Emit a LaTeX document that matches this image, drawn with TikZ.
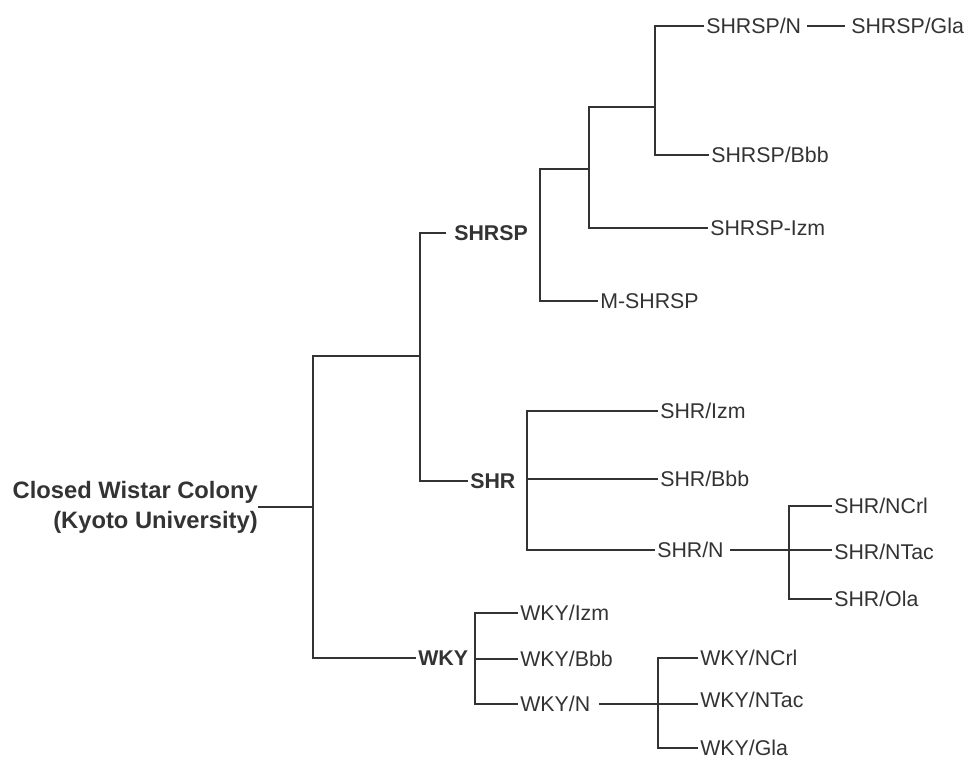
\documentclass[tikz,border=0pt]{standalone}
\usepackage{fontspec}
\setmainfont{Liberation Sans}
\definecolor{ink}{HTML}{333333}
\begin{document}
\begin{tikzpicture}[x=0.75pt,y=-0.75pt,
  lbl/.style={anchor=west,inner sep=1.5pt,text=ink,font=\fontsize{16}{18}\selectfont},
  blbl/.style={anchor=west,inner sep=1.5pt,text=ink,font=\fontsize{16}{18}\selectfont\bfseries},
  ln/.style={draw=ink,line width=1.4pt}]
\useasboundingbox (0,0) rectangle (971,759);
% root
\node[anchor=east,inner sep=0pt,align=right,text=ink,
      font=\fontsize{17.8}{22.5}\selectfont\bfseries] (root) at (258,507)
      {Closed Wistar Colony\\(Kyoto University)};
% junction coordinates
\coordinate (j1) at (313,507);
\coordinate (j2) at (420,356);
\coordinate (b3) at (540,233);
\coordinate (j4) at (589,169);
\coordinate (j5) at (655,107);
\coordinate (b6) at (527,479);
\coordinate (b7) at (789,550);
\coordinate (b8) at (475,659);
\coordinate (b9) at (658,704);
% level 1
\node[blbl] (shrsp) at (452,233) {SHRSP};
\node[blbl] (shr) at (468,481) {SHR};
\node[blbl] (wky) at (416,658) {WKY};
% SHRSP branch
\node[lbl] (mshrsp) at (598,301) {M-SHRSP};
\node[lbl] (spizm) at (708,228) {SHRSP-Izm};
\node[lbl] (spbbb) at (709,155) {SHRSP/Bbb};
\node[lbl] (spn) at (704,26) {SHRSP/N};
\node[lbl] (spgla) at (849,26) {SHRSP/Gla};
% SHR branch
\node[lbl] (shrizm) at (658,411) {SHR/Izm};
\node[lbl] (shrbbb) at (658,479) {SHR/Bbb};
\node[lbl] (shrn) at (655,550) {SHR/N};
\node[lbl] (shrncrl) at (832,506) {SHR/NCrl};
\node[lbl] (shrntac) at (832,552) {SHR/NTac};
\node[lbl] (shrola) at (832,599) {SHR/Ola};
% WKY branch
\node[lbl] (wkyizm) at (518,613) {WKY/Izm};
\node[lbl] (wkybbb) at (518,659) {WKY/Bbb};
\node[lbl] (wkyn) at (518,704) {WKY/N};
\node[lbl] (wkyncrl) at (698,658) {WKY/NCrl};
\node[lbl] (wkyntac) at (698,700) {WKY/NTac};
\node[lbl] (wkygla) at (698,748) {WKY/Gla};
% connectors
\draw[ln] (root.east) -- (j1);
\draw[ln] (j2) -| (j1) |- (wky.west);
\draw[ln,shorten <=4.5pt] (shrsp.west) -| (j2) |- (shr.west);
\draw[ln] (j4) -| (b3) |- (mshrsp.west);
\draw[ln] (j5) -| (j4) |- (spizm.west);
\draw[ln] (spn.west) -| (j5) |- (spbbb.west);
\draw[ln,shorten <=3pt,shorten >=3pt] (spn.east) -- (spgla.west);
\draw[ln] (shrizm.west) -| (b6) |- (shrn.west);
\draw[ln] (b6) -- (shrbbb.west);
\draw[ln,shorten <=3pt] (shrn.east) -- (b7);
\draw[ln] (shrncrl.west) -| (b7) |- (shrola.west);
\draw[ln] (b7) -- (b7 -| shrntac.west);
\draw[ln] (wkyizm.west) -| (b8) |- (wkyn.west);
\draw[ln] (b8) -- (wkybbb.west);
\draw[ln,shorten <=5pt] (wkyn.east) -- (b9);
\draw[ln] (wkyncrl.west) -| (b9) |- (wkygla.west);
\draw[ln] (b9) -- (b9 -| wkyntac.west);
\end{tikzpicture}
\end{document}
